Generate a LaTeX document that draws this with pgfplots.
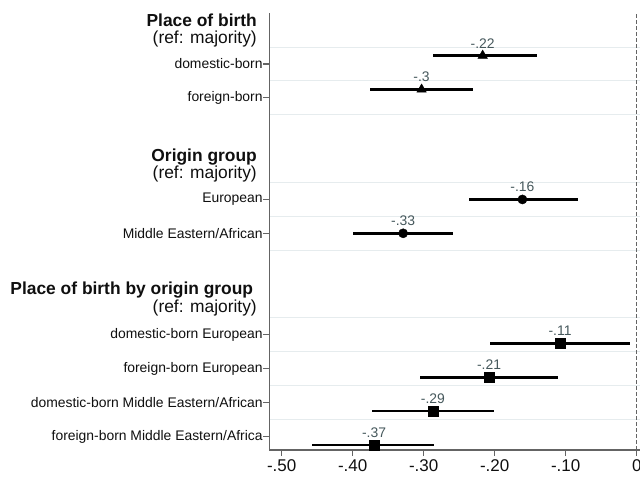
\documentclass[border=0pt]{standalone}
\usepackage{pgfplots}
\usepackage{pgfplotstable}
\pgfplotsset{compat=1.18}
\usepackage{fontspec}
\setmainfont{Liberation Sans}
\definecolor{axisgray}{RGB}{100,100,100}
\definecolor{gridc}{RGB}{230,236,238}
\definecolor{lblc}{RGB}{70,88,92}
\definecolor{txt}{RGB}{15,15,15}

% rows: y = -row, markers offset by 0.25 per model
\pgfplotstableread{
x      lo      hi      y      lab
-0.217 -0.287  -0.140  0.25   -.22
-0.303 -0.375  -0.231  -0.75  -.3
}\birth
\pgfplotstableread{
x      lo      hi      y      lab
-0.161 -0.236  -0.083  -4     -.16
-0.329 -0.400  -0.259  -5     -.33
}\origin
\pgfplotstableread{
x      lo      hi      y       lab
-0.108 -0.206  -0.009  -8.25   -.11
-0.208 -0.305  -0.111  -9.25   -.21
-0.287 -0.373  -0.201  -10.25  -.29
-0.370 -0.457  -0.286  -11.25  -.37
}\both

\newcommand{\hdr}{\fontsize{17.4bp}{20bp}\selectfont}

\begin{document}
\begin{tikzpicture}
\begin{axis}[
  name=ax,
  scale only axis,
  width=370.7bp, height=437bp,
  xmin=-0.5175, xmax=0.0046,
  ymin=-11.40, ymax=1.507,
  clip=false,
  axis lines=left,
  x axis line style={-}, y axis line style={-},
  axis line style={draw=axisgray, line width=1.4bp},
  tick align=outside,
  major tick length=6bp,
  tick style={draw=axisgray, line width=1.1bp},
  xtick={-0.5,-0.4,-0.3,-0.2,-0.1,0},
  xticklabels={-.50,-.40,-.30,-.20,-.10,0},
  ytick={0,-1,-4,-5,-8,-9,-10,-11},
  yticklabels={domestic-born, foreign-born, European, Middle Eastern/African,
    domestic-born European, foreign-born European,
    domestic-born Middle Eastern/African, foreign-born Middle Eastern/Africa},
  minor ytick={0.5,-0.5,-1.5,-3.5,-4.5,-5.5,-7.5,-8.5,-9.5,-10.5},
  yminorgrids,
  minor tick length=0pt,
  minor grid style={draw=gridc, line width=1bp},
  yticklabel style={font=\fontsize{13.9bp}{16bp}\selectfont, text=txt, inner sep=0.5bp},
  xticklabel style={font=\fontsize{17bp}{20bp}\selectfont, text=txt},
  ci/.style={only marks, black,
    point meta=explicit symbolic,
    nodes near coords,
    every node near coord/.append style={anchor=base, yshift=7.5bp,
      font=\fontsize{13.9bp}{16bp}\selectfont, text=lblc},
    error bars/x dir=both, error bars/x explicit,
    error bars/error bar style={line width=2.6bp, black},
    error bars/error mark=none},
]
\addplot[draw=axisgray, line width=1bp, dash pattern=on 4bp off 2bp,
  sharp plot, no marks]
  coordinates {(0,-11.40) (0,1.507)};

\addplot[ci, mark=triangle*, mark size=5.5bp]
  table[x=x, y=y, meta=lab,
    x error plus expr=\thisrow{hi}-\thisrow{x},
    x error minus expr=\thisrow{x}-\thisrow{lo}] {\birth};
\addplot[ci, mark=*, mark size=4.6bp]
  table[x=x, y=y, meta=lab,
    x error plus expr=\thisrow{hi}-\thisrow{x},
    x error minus expr=\thisrow{x}-\thisrow{lo}] {\origin};
\addplot[ci, mark=square*, mark size=4.8bp]
  table[x=x, y=y, meta=lab,
    x error plus expr=\thisrow{hi}-\thisrow{x},
    x error minus expr=\thisrow{x}-\thisrow{lo}] {\both};

% group headings
\begin{scope}[every node/.style={anchor=base east, inner sep=0pt, text=txt}]
\node[font=\hdr\bfseries] at ([xshift=-12.3bp]axis cs:-0.5175,1.12) {Place of birth};
\node[font=\hdr] at ([xshift=-12.3bp]axis cs:-0.5175,0.62) {(ref: majority)};
\node[font=\hdr\bfseries] at ([xshift=-12.3bp]axis cs:-0.5175,-2.87) {Origin group};
\node[font=\hdr] at ([xshift=-12.3bp]axis cs:-0.5175,-3.37) {(ref: majority)};
\node[font=\hdr\bfseries] at ([xshift=-16bp]axis cs:-0.5175,-6.82) {Place of birth by origin group};
\node[font=\hdr] at ([xshift=-12.3bp]axis cs:-0.5175,-7.33) {(ref: majority)};
\end{scope}
\end{axis}
\pgfresetboundingbox
\useasboundingbox ([shift={(-269.3bp,-32bp)}]ax.south west)
  rectangle ([shift={(370.7bp,450bp)}]ax.south west);
\end{tikzpicture}
\end{document}
